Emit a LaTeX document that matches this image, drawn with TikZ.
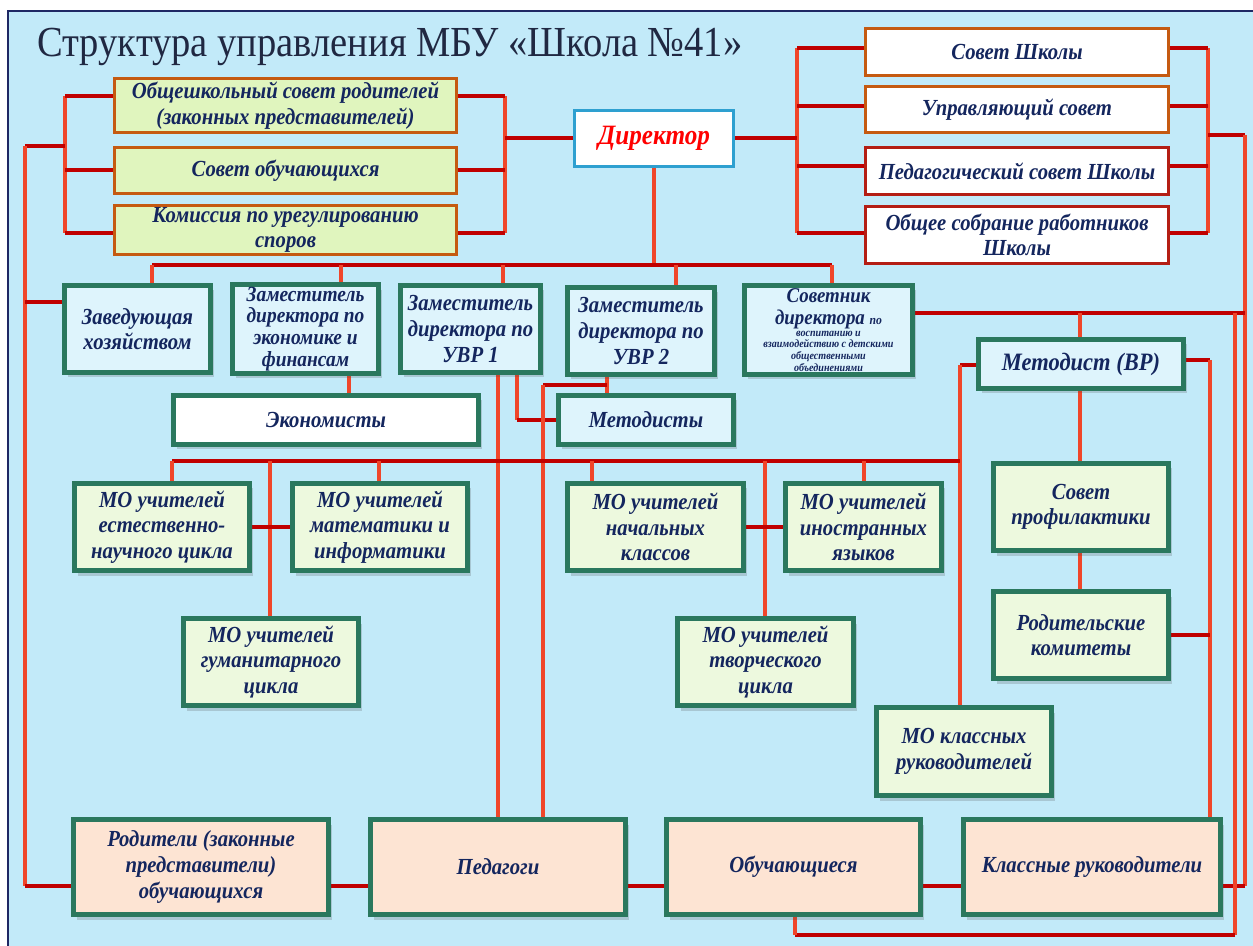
\documentclass[tikz,border=0pt]{standalone}
\usepackage{fontspec}
\setmainfont{Liberation Serif}[FakeStretch=0.9]
\usetikzlibrary{shadows,calc}
\definecolor{bgblue}{RGB}{194,234,249}
\definecolor{navy}{RGB}{20,38,94}
\definecolor{framec}{RGB}{30,40,100}
\definecolor{titlec}{RGB}{32,40,66}
\definecolor{tealb}{RGB}{42,120,94}
\definecolor{orb}{RGB}{197,90,17}
\definecolor{drd}{RGB}{180,30,20}
\definecolor{lgreen}{RGB}{224,245,190}
\definecolor{mgreen}{RGB}{237,249,222}
\definecolor{lblue}{RGB}{222,244,252}
\definecolor{peach}{RGB}{253,228,211}
\definecolor{hred}{RGB}{192,0,0}
\definecolor{vred}{RGB}{240,70,42}
\definecolor{dirb}{RGB}{46,160,208}
\pgfdeclarelayer{bg}
\pgfsetlayers{bg,main}
\tikzset{
  bx/.style={align=center, inner sep=1pt, text=navy, font=\fontsize{11.5}{12.8}\selectfont\bfseries\itshape},
  grp/.style={bx, draw=orb, line width=1.3pt, fill=lgreen},
  wbox/.style={bx, fill=white, line width=1.3pt},
  dirst/.style={bx, fill=white, draw=dirb, line width=1.1pt, text=red, font=\fontsize{14}{15}\selectfont\bfseries\itshape},
  tbox/.style={bx, draw=tealb, line width=2.4pt, drop shadow={shadow xshift=1.5pt, shadow yshift=-2.5pt, opacity=0.22, fill=black!70}},
  hl/.style={draw=hred, line width=2pt},
  vl/.style={draw=vred, line width=1.6pt}
}
\newcommand\mybox[7]{\node[#6, minimum width={(#4-#2)*0.5pt-1.5pt}, minimum height={(#5-#3)*0.5pt-1.5pt}] (#1) at ({(#2+#4)/2},{(#3+#5)/2}) {#7};}
\begin{document}
\begin{tikzpicture}[x=0.5pt,y=-0.5pt]
\useasboundingbox (0,0) rectangle (1253,946);
\begin{pgfonlayer}{bg}
\fill[white] (0,0) rectangle (1253,946);
\fill[bgblue] (8,11) rectangle (1253,946);
\draw[framec, line width=1.1pt] (8,946) -- (8,11) -- (1253,11);
\end{pgfonlayer}

\node[font=\fontsize{21.4}{26}\selectfont, text=titlec, anchor=west, inner sep=0pt] (title) at (37,47) {Структура управления МБУ «Школа №41»};

% left group
\mybox{b1}{113}{77}{458}{134}{grp}{Общешкольный совет родителей\\(законных представителей)}
\mybox{b2}{113}{146}{458}{195}{grp}{Совет обучающихся}
\mybox{b3}{113}{205}{458}{255}{grp}{Комиссия по урегулированию\\споров}
% director
\mybox{dir}{573}{109}{735}{168}{dirst}{Директор}
% right group
\mybox{r1}{864}{27}{1170}{77}{wbox,draw=orb}{Совет Школы}
\mybox{r2}{864}{85}{1170}{134}{wbox,draw=orb}{Управляющий совет}
\mybox{r3}{864}{146}{1170}{196}{wbox,draw=drd}{Педагогический совет Школы}
\mybox{r4}{864}{205}{1170}{265}{wbox,draw=drd}{Общее собрание работников\\Школы}
% deputies row
\mybox{zav}{63}{284}{212}{374}{tbox,fill=lblue}{Заведующая\\хозяйством}
\mybox{zec}{231}{284}{380}{374}{tbox,fill=lblue,font=\fontsize{10.8}{10.9}\selectfont\bfseries\itshape}{Заместитель\\директора по\\экономике и\\финансам}
\mybox{zu1}{399}{284}{542}{374}{tbox,fill=lblue}{Заместитель\\директора по\\УВР 1}
\mybox{zu2}{566}{286}{716}{376}{tbox,fill=lblue}{Заместитель\\директора по\\УВР 2}
\mybox{sov}{744}{284}{913}{376}{tbox,fill=lblue}{\parbox{82pt}{\centering\fontsize{10.5}{11}\selectfont Советник\\директора {\fontsize{6.5}{7}\selectfont по}\par\fontsize{5.6}{5.9}\selectfont воспитанию и\\взаимодействию с детскими\\общественными\\объединениями\par}}
\mybox{eco}{172}{394}{480}{446}{tbox,fill=white}{Экономисты}
\mybox{met}{557}{394}{735}{446}{tbox,fill=lblue}{Методисты}
\mybox{mvr}{977}{338}{1185}{390}{tbox,fill=lblue,font=\fontsize{12.5}{13}\selectfont\bfseries\itshape}{Методист (ВР)}
% MO
\mybox{moe}{73}{482}{251}{572}{tbox,fill=mgreen}{МО учителей\\естественно-\\научного цикла}
\mybox{mom}{291}{482}{469}{572}{tbox,fill=mgreen}{МО учителей\\математики и\\информатики}
\mybox{mon}{566}{482}{745}{572}{tbox,fill=mgreen}{МО учителей\\начальных\\классов}
\mybox{moi}{784}{482}{943}{572}{tbox,fill=mgreen}{МО учителей\\иностранных\\языков}
\mybox{mog}{182}{617}{360}{707}{tbox,fill=mgreen}{МО учителей\\гуманитарного\\цикла}
\mybox{mot}{676}{617}{855}{707}{tbox,fill=mgreen}{МО учителей\\творческого\\цикла}
\mybox{mok}{875}{706}{1053}{797}{tbox,fill=mgreen}{МО классных\\руководителей}
\mybox{sp}{992}{462}{1170}{552}{tbox,fill=mgreen}{Совет\\профилактики}
\mybox{rk}{992}{590}{1170}{680}{tbox,fill=mgreen}{Родительские\\комитеты}
% bottom row
\mybox{rod}{72}{818}{330}{916}{tbox,fill=peach}{Родители (законные\\представители)\\обучающихся}
\mybox{ped}{369}{818}{627}{916}{tbox,fill=peach}{Педагоги}
\mybox{obu}{665}{818}{922}{916}{tbox,fill=peach}{Обучающиеся}
\mybox{kr}{962}{818}{1222}{916}{tbox,fill=peach}{Классные руководители}

\begin{pgfonlayer}{bg}
% left group bracket
\coordinate (L1) at (65,96); \coordinate (L2) at (65,170); \coordinate (L3) at (65,233);
\coordinate (LL) at (25,146);
\draw[vl] (L1) -- (L3);
\draw[hl] (L1) -- (L1 -| b1.west);
\draw[hl] (L2) -- (L2 -| b2.west);
\draw[hl] (L3) -- (L3 -| b3.west);
\draw[hl] (LL) -- (LL -| L1);
\coordinate (R1) at (505,96); \coordinate (R2) at (505,170); \coordinate (R3) at (505,233);
\draw[vl] (R1) -- (R3);
\draw[hl] (R1 -| b1.east) -- (R1);
\draw[hl] (R2 -| b2.east) -- (R2);
\draw[hl] (R3 -| b3.east) -- (R3);
\draw[hl] (dir.west -| R1) -- (dir.west);
% right group bracket
\coordinate (P1) at (797,48); \coordinate (P2) at (797,106); \coordinate (P3) at (797,166); \coordinate (P4) at (797,233);
\draw[vl] (P1) -- (P4);
\draw[hl] (P1) -- (P1 -| r1.west);
\draw[hl] (P2) -- (P2 -| r2.west);
\draw[hl] (P3) -- (P3 -| r3.west);
\draw[hl] (P4) -- (P4 -| r4.west);
\draw[hl] (dir.east) -- (dir.east -| P1);
\coordinate (Q1) at (1208,48); \coordinate (Q2) at (1208,106); \coordinate (Q3) at (1208,166); \coordinate (Q4) at (1208,233);
\draw[vl] (Q1) -- (Q4);
\draw[hl] (Q1 -| r1.east) -- (Q1);
\draw[hl] (Q2 -| r2.east) -- (Q2);
\draw[hl] (Q3 -| r3.east) -- (Q3);
\draw[hl] (Q4 -| r4.east) -- (Q4);
\coordinate (E1) at (1245,135);
\coordinate (KB) at (0,886);
\draw[hl] (E1 -| Q1) -- (E1);
\draw[vl] (E1) -- (E1 |- KB);
\draw[hl] (E1 |- KB) -- (kr.east |- KB);
% director bus
\coordinate (D1) at (152,265); \coordinate (D2) at (341,265); \coordinate (D3) at (503,265);
\coordinate (D4) at (676,265); \coordinate (D5) at (832,265);
\draw[vl] (dir.south) -- (dir.south |- D1);
\draw[hl] (D1) -- (D5);
\draw[vl] (D1) -- (D1 |- zav.north);
\draw[vl] (D2) -- (D2 |- zec.north);
\draw[vl] (D3) -- (D3 |- zu1.north);
\draw[vl] (D4) -- (D4 |- zu2.north);
\draw[vl] (D5) -- (D5 |- sov.north);
% left long line
\coordinate (LV) at (25,302);
\draw[vl] (LL) -- (LL |- KB);
\draw[hl] (LV) -- (LV -| zav.west);
\draw[hl] (LL |- KB) -- (rod.west |- KB);
% economists
\coordinate (EC) at (349,0);
\draw[vl] (EC |- zec.south) -- (EC |- eco.north);
% UVR1
\coordinate (U1a) at (498,0); \coordinate (U1b) at (517,0);
\draw[vl] (U1a |- zu1.south) -- (U1a |- ped.north);
\draw[vl] (U1b |- zu1.south) -- (U1b |- met.west);
\draw[hl] (U1b |- met.west) -- (met.west);
% UVR2
\coordinate (U2) at (607,385); \coordinate (U2b) at (543,385);
\draw[vl] (U2 |- zu2.south) -- (U2 |- met.north);
\draw[hl] (U2b) -- (U2);
\draw[vl] (U2b) -- (U2b |- ped.north);
% advisor
\coordinate (S) at (0,313); \coordinate (MX) at (1080,0); \coordinate (F1) at (1235,0);
\coordinate (BB) at (0,935); \coordinate (OB) at (795,935);
\draw[hl] (sov.east |- S) -- (E1 |- S);
\draw[vl] (MX |- S) -- (MX |- mvr.north);
\draw[vl] (F1 |- S) -- (F1 |- BB);
\draw[hl] (F1 |- BB) -- (OB);
\draw[vl] (OB) -- (OB |- obu.south);
% methodist VR
\coordinate (G) at (960,365);
\draw[hl] (mvr.west |- G) -- (G);
\draw[vl] (G) -- (G |- mok.north);
\coordinate (H) at (1210,360);
\draw[hl] (mvr.east |- H) -- (H);
\draw[vl] (H) -- (H |- kr.north);
\draw[hl] (rk.east) -- (rk.east -| H);
\draw[vl] (MX |- mvr.south) -- (MX |- sp.north);
\draw[vl] (MX |- sp.south) -- (MX |- rk.north);
% MO bus
\coordinate (M0) at (172,461); \coordinate (M1) at (270,461); \coordinate (M2) at (379,461);
\coordinate (M3) at (592,461); \coordinate (M4) at (765,461); \coordinate (M5) at (864,461);
\draw[hl] (M0) -- (M0 -| G);
\draw[vl] (M0) -- (M0 |- moe.north);
\draw[vl] (M1) -- (M1 |- mog.north);
\draw[vl] (M2) -- (M2 |- mom.north);
\draw[vl] (M3) -- (M3 |- mon.north);
\draw[vl] (M4) -- (M4 |- mot.north);
\draw[vl] (M5) -- (M5 |- moi.north);
\draw[hl] (moe.east) -- (mom.west);
\draw[hl] (mon.east) -- (moi.west);
% bottom links
\draw[hl] (rod.east |- KB) -- (ped.west |- KB);
\draw[hl] (ped.east |- KB) -- (obu.west |- KB);
\draw[hl] (obu.east |- KB) -- (kr.west |- KB);
\end{pgfonlayer}
\end{tikzpicture}
\end{document}
